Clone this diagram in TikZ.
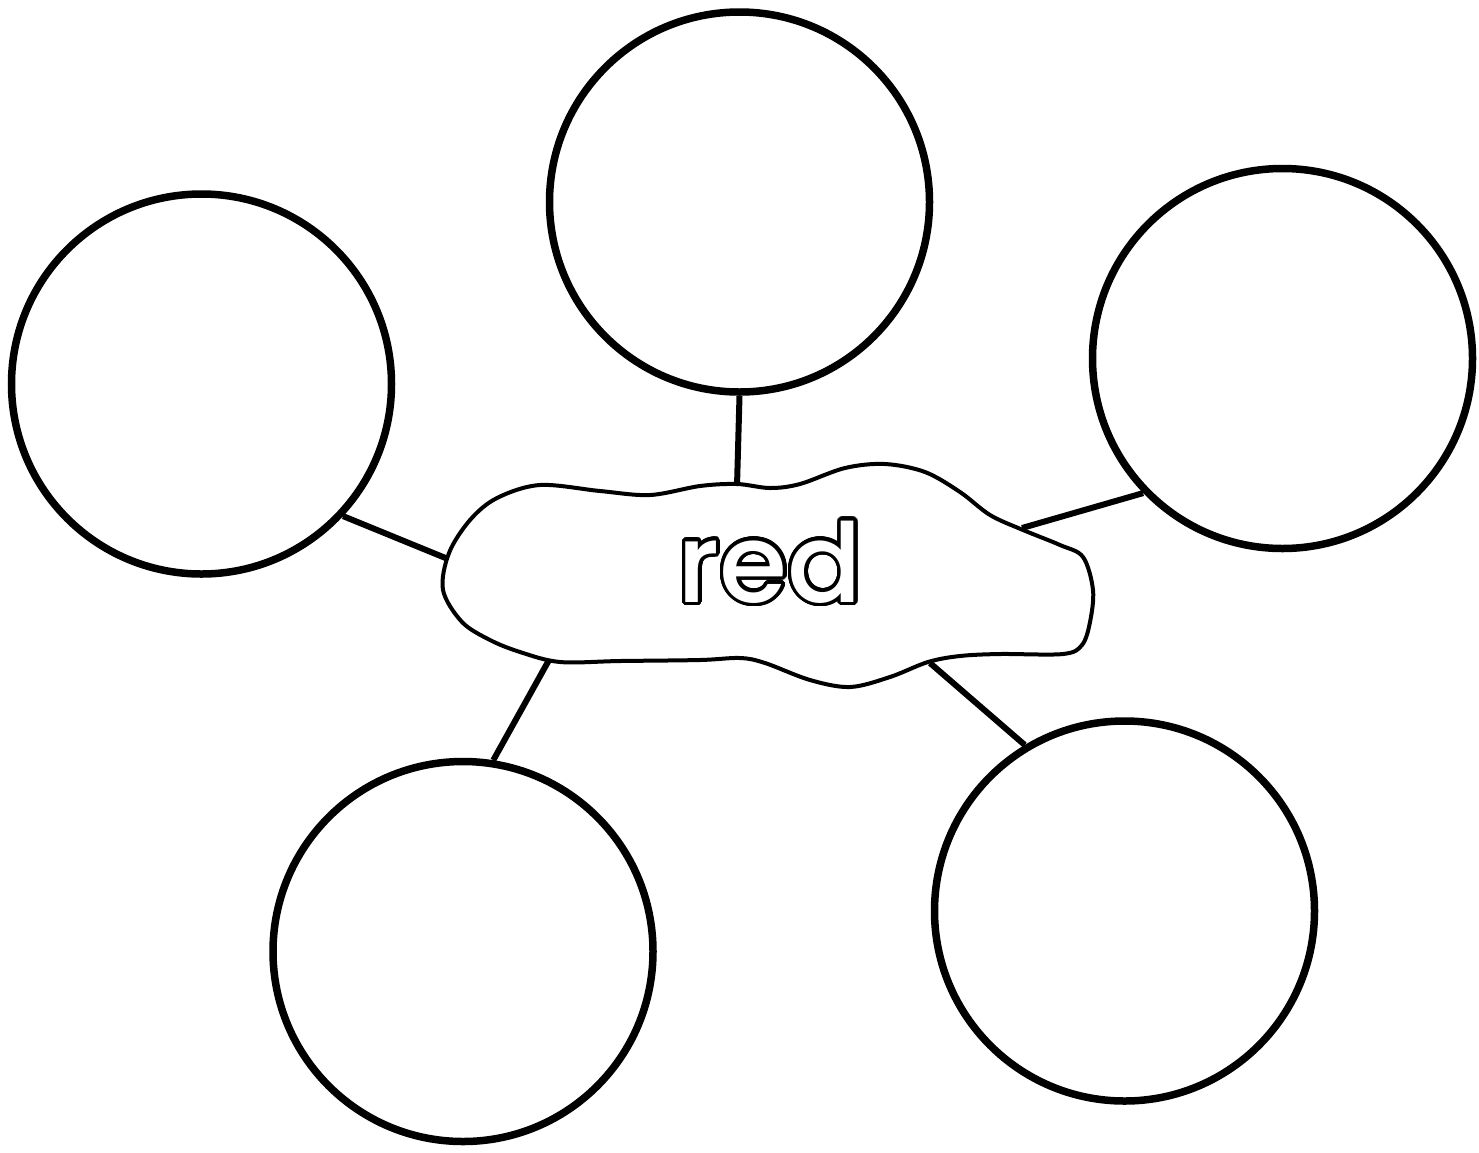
\documentclass[tikz,border=0pt]{standalone}
\usepackage{fontspec}
\newfontfamily\wordfont{Poppins Medium}
\usepackage{contour}
\contourlength{3.5pt}
\contournumber{32}
\begin{document}
\begin{tikzpicture}[x=1pt,y=-1pt,
  bubble/.style={circle,draw,line width=7.5pt,minimum size=380pt,inner sep=0pt},
  link/.style={line width=6pt},
  blob/.style={line width=4pt,line join=round}]
\useasboundingbox (0,0) rectangle (1479,1152);
\node[bubble] (T) at (739.5,202) {};
\node[bubble] (L) at (201.5,384) {};
\node[bubble] (R) at (1282.5,358.5) {};
\node[bubble] (BL) at (463,951.5) {};
\node[bubble] (BR) at (1124.5,911) {};
\coordinate (bt) at (737,486);
\coordinate (bl) at (448,559);
\coordinate (br) at (1022,528);
\coordinate (bbl) at (549,660);
\coordinate (bbr) at (930,663);
\draw[link] (T.-90.5) -- (bt);
\draw[link] (L.-43.8) -- (bl);
\draw[link] (R.-136.8) -- (br);
\draw[link] (BL.81.9) -- (bbl);
\draw[link] (BR.121.6) -- (bbr);
\draw[blob,fill=white] plot[smooth cycle,tension=0.55] coordinates {
 (443,590) (449,553) (470,520) (497,498) (540,485) (600,491) (650,495)
 (700,486) (737,484) (770,488) (800,484) (845,468) (885,464) (925,472)
 (960,492) (990,515) (1023,530) (1060,545) (1083,557) (1093,590)
 (1090,622) (1082,645) (1063,654) (1000,654) (960,656) (928,662)
 (890,677) (850,687) (810,680) (765,663) (740,658) (700,660) (620,661)
 (560,662) (520,652) (490,640) (462,622)};
\node[anchor=base,inner sep=0pt] (word) at (770,602)
  {\wordfont\fontsize{110}{110}\selectfont\contour{black}{\color{white}red}};
\end{tikzpicture}
\end{document}
